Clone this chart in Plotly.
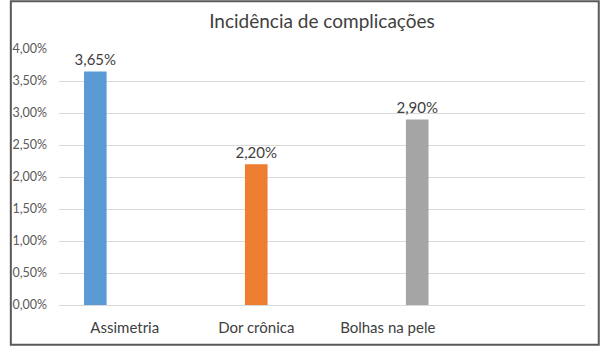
import plotly.graph_objects as go

categories = ["Assimetria", "Dor crônica", "Bolhas na pele"]
values = [0.0365, 0.0220, 0.0290]
colors = ["#5b9bd5", "#ed7d31", "#a5a5a5"]
title = "Incidência de complicações"

W, H = 600, 348
ml, mr, mt, mb = 50, 15, 49, 41
pw, ph = W - ml - mr, H - mt - mb

bar_w = 0.172      # bar width in category units
slot = 0.224       # distance between series slots within a category

fig = go.Figure()
n = len(categories)
for i, (c, v) in enumerate(zip(categories, values)):
    center = (i - (n - 1) / 2) * slot
    fig.add_trace(go.Bar(
        x=[c], y=[v], name=c, marker=dict(color=colors[i], line=dict(width=0)),
        width=bar_w, offset=center - bar_w / 2,
        texttemplate="%{y:.2%}", textposition="outside", cliponaxis=False,
        constraintext="none",
        textfont=dict(family="Lato", size=15, color="#404040"),
        showlegend=False,
    ))

fig.update_layout(
    width=W, height=H,
    margin=dict(l=ml, r=mr, t=mt, b=mb),
    paper_bgcolor="white", plot_bgcolor="white",
    separators=",.",
    barmode="overlay",
    title=dict(text=title, x=0.5, xref="paper", xanchor="center", y=1 - 21 / H, yanchor="middle",
               font=dict(family="Lato", size=19, color="#404040")),
    font=dict(family="Lato", color="#595959"),
    xaxis=dict(type="category", categoryorder="array", categoryarray=categories,
               range=[-0.5, 3.5], showgrid=False, showline=False, zeroline=False,
               ticks="", ticklabelstandoff=12, tickfont=dict(size=15, color="#404040")),
    yaxis=dict(range=[0, 0.04], dtick=0.005, tickformat=".2%", showgrid=True,
               gridcolor="#d9d9d9", gridwidth=1, zeroline=True, zerolinecolor="#d9d9d9",
               zerolinewidth=1, showline=False, ticks="", ticklabelstandoff=11,
               tickfont=dict(size=12.5, color="#595959")),
)

# outer border of the chart
fig.add_shape(type="rect", xref="paper", yref="paper",
              x0=(1 - ml) / pw, x1=(W - 1 - ml) / pw,
              y0=-(H - 1 - mt - ph) / ph, y1=(ph + mt - 1) / ph,
              line=dict(color="#595959", width=2), fillcolor="rgba(0,0,0,0)", layer="above")

fig.write_html("out.html")
